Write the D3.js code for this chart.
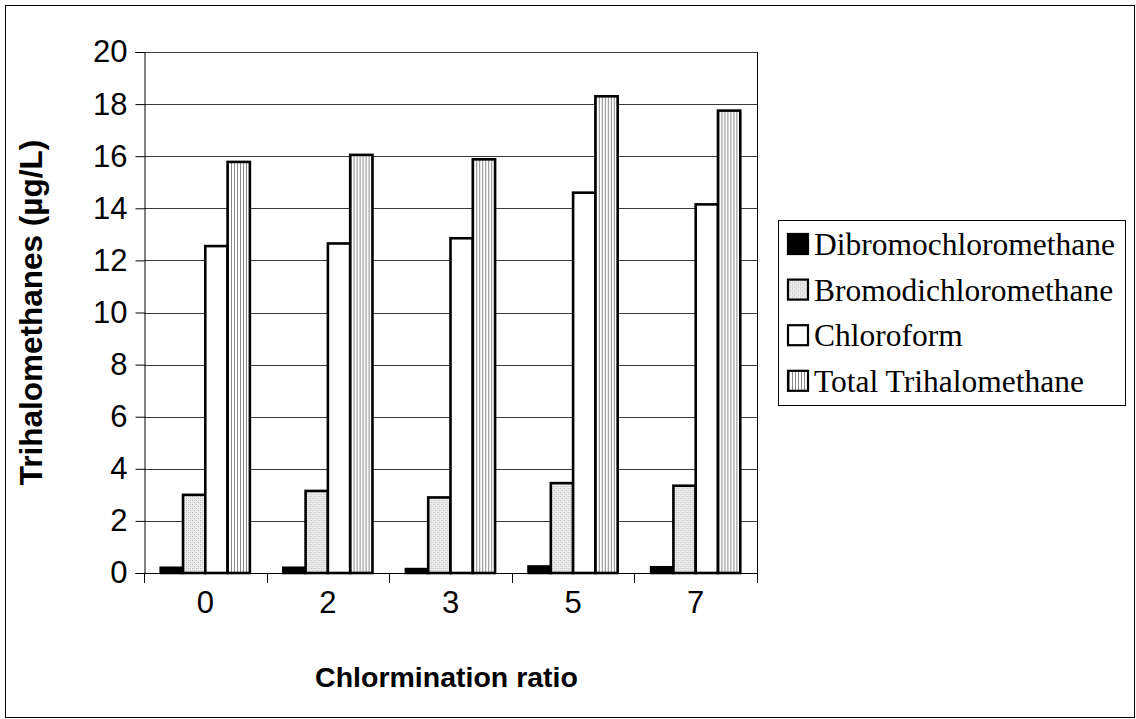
<!DOCTYPE html>
<html>
<head>
<meta charset="utf-8">
<script src="https://cdn.jsdelivr.net/npm/d3@7"></script>
<style>
  html, body { margin: 0; padding: 0; background: #fff; }
  svg { display: block; }
</style>
</head>
<body>
<svg id="chart" width="1136" height="719"></svg>
<script>
// Chlormination ratios on the x axis
const categories = ["0", "2", "3", "5", "7"];
// Series names, in legend / bar order
const seriesNames = ["Dibromochloromethane", "Bromodichloromethane", "Chloroform", "Total Trihalomethane"];
// Concentrations (µg/L) per series, one value per ratio
const dibromochloromethane = [0.2, 0.2, 0.15, 0.25, 0.22];
const bromodichloromethane = [3.0, 3.15, 2.9, 3.45, 3.35];
const chloroform = [12.55, 12.65, 12.85, 14.6, 14.15];
const totalTrihalomethane = [15.78, 16.05, 15.88, 18.3, 17.75];
// Value axis ticks
const yTicks = [0, 2, 4, 6, 8, 10, 12, 14, 16, 18, 20];

const seriesValues = [dibromochloromethane, bromodichloromethane, chloroform, totalTrihalomethane];
const fills = ["#000", "url(#dots)", "#fff", "url(#vlines)"];

const svg = d3.select("#chart");

// fill patterns
const defs = svg.append("defs");
const dots = defs.append("pattern").attr("id", "dots")
  .attr("patternUnits", "userSpaceOnUse").attr("width", 4).attr("height", 4);
dots.append("rect").attr("width", 4).attr("height", 4).attr("fill", "#ececec");
dots.append("rect").attr("x", 0).attr("y", 0).attr("width", 1).attr("height", 1).attr("fill", "#b8b8b8");
dots.append("rect").attr("x", 2).attr("y", 2).attr("width", 1).attr("height", 1).attr("fill", "#b8b8b8");
dots.append("rect").attr("x", 2).attr("y", 0).attr("width", 1).attr("height", 1).attr("fill", "#d4d4d4");
dots.append("rect").attr("x", 0).attr("y", 2).attr("width", 1).attr("height", 1).attr("fill", "#d4d4d4");

const vl = defs.append("pattern").attr("id", "vlines")
  .attr("patternUnits", "userSpaceOnUse").attr("width", 3).attr("height", 3);
vl.append("rect").attr("width", 3).attr("height", 3).attr("fill", "#fff");
vl.append("rect").attr("x", 0).attr("width", 1).attr("height", 3).attr("fill", "#8a8a8a");

// outer frame
svg.append("rect").attr("x", 5.5).attr("y", 5.5).attr("width", 1129).attr("height", 712)
  .attr("fill", "#fff").attr("stroke", "#000").attr("stroke-width", 1);

const plot = { left: 144, right: 757, top: 52, bottom: 573 };

const x = d3.scaleBand().domain(categories).range([plot.left, plot.right]).paddingInner(0).paddingOuter(0);
const y = d3.scaleLinear().domain([0, 20]).range([plot.bottom, plot.top]);

const bw = x.bandwidth();
const barW = bw / 5.5;           // gap width 150%
const xs = d3.scaleBand().domain(d3.range(seriesNames.length))
  .range([barW * 0.75, bw - barW * 0.75]).padding(0);

// gridlines
svg.append("g")
  .selectAll("line").data(yTicks.filter(d => d > 0)).join("line")
  .attr("x1", plot.left).attr("x2", plot.right)
  .attr("y1", d => Math.round(y(d)) + 0.5).attr("y2", d => Math.round(y(d)) + 0.5)
  .attr("stroke", "#3a3a3a").attr("stroke-width", 1);

// right edge of plot area
svg.append("line")
  .attr("x1", plot.right + 0.5).attr("x2", plot.right + 0.5)
  .attr("y1", plot.top).attr("y2", plot.bottom)
  .attr("stroke", "#000").attr("stroke-width", 1);

// bars
const groups = svg.append("g").selectAll("g").data(categories).join("g")
  .attr("transform", d => `translate(${x(d)},0)`);

groups.selectAll("rect")
  .data((c, ci) => seriesValues.map((vals, si) => ({ si, v: vals[ci] })))
  .join("rect")
  .attr("x", d => xs(d.si))
  .attr("width", xs.bandwidth())
  .attr("y", d => y(d.v))
  .attr("height", d => y(0) - y(d.v))
  .attr("fill", d => fills[d.si])
  .attr("stroke", "#000")
  .attr("stroke-width", 2.6);

// y axis
const yAxis = d3.axisLeft(y).tickValues(yTicks).tickSize(9).tickPadding(8).tickFormat(d3.format("d"));
const gy = svg.append("g").attr("transform", `translate(${plot.left + 0.5},0)`).call(yAxis);
gy.select(".domain").attr("stroke", "#000");
gy.selectAll(".tick line").attr("stroke", "#000");
gy.selectAll("text").attr("font-family", "Liberation Sans, Arial, sans-serif")
  .attr("font-size", 31).attr("fill", "#000");

// x axis baseline and category divider ticks
svg.append("line")
  .attr("x1", plot.left).attr("x2", plot.right + 1)
  .attr("y1", plot.bottom + 0.5).attr("y2", plot.bottom + 0.5)
  .attr("stroke", "#000");
const bounds = categories.map(c => x(c)).concat([plot.right]);
svg.append("g").selectAll("line").data(bounds).join("line")
  .attr("x1", d => Math.round(d) + 0.5).attr("x2", d => Math.round(d) + 0.5)
  .attr("y1", plot.bottom).attr("y2", plot.bottom + 10)
  .attr("stroke", "#000");

svg.append("g").selectAll("text").data(categories).join("text")
  .attr("x", d => x(d) + bw / 2)
  .attr("y", 613)
  .attr("text-anchor", "middle")
  .attr("font-family", "Liberation Sans, Arial, sans-serif")
  .attr("font-size", 31)
  .text(d => d);

// axis titles
svg.append("text")
  .attr("x", (plot.left + plot.right) / 2 - 4)
  .attr("y", 687)
  .attr("text-anchor", "middle")
  .attr("font-family", "Liberation Sans, Arial, sans-serif")
  .attr("font-weight", "bold")
  .attr("font-size", 28.5)
  .text("Chlormination ratio");

svg.append("text")
  .attr("transform", `translate(42,${(plot.top + plot.bottom) / 2}) rotate(-90)`)
  .attr("text-anchor", "middle")
  .attr("font-family", "Liberation Sans, Arial, sans-serif")
  .attr("font-weight", "bold")
  .attr("font-size", 31.5)
  .text("Trihalomethanes (µg/L)");

// legend
const legend = svg.append("g");
legend.append("rect").attr("x", 778.5).attr("y", 220.5).attr("width", 347).attr("height", 185)
  .attr("fill", "#fff").attr("stroke", "#000").attr("stroke-width", 1);
const rows = legend.selectAll("g").data(seriesNames).join("g")
  .attr("transform", (d, i) => `translate(0,${255 + i * 45.6})`);
rows.append("rect")
  .attr("x", 788).attr("y", -21).attr("width", 20).attr("height", 20)
  .attr("fill", (d, i) => fills[i]).attr("stroke", "#000").attr("stroke-width", 2.2);
rows.append("text")
  .attr("x", 814).attr("y", 0)
  .attr("font-family", "Liberation Serif, Times New Roman, serif")
  .attr("font-size", 31.5)
  .text(d => d);
</script>
</body>
</html>
